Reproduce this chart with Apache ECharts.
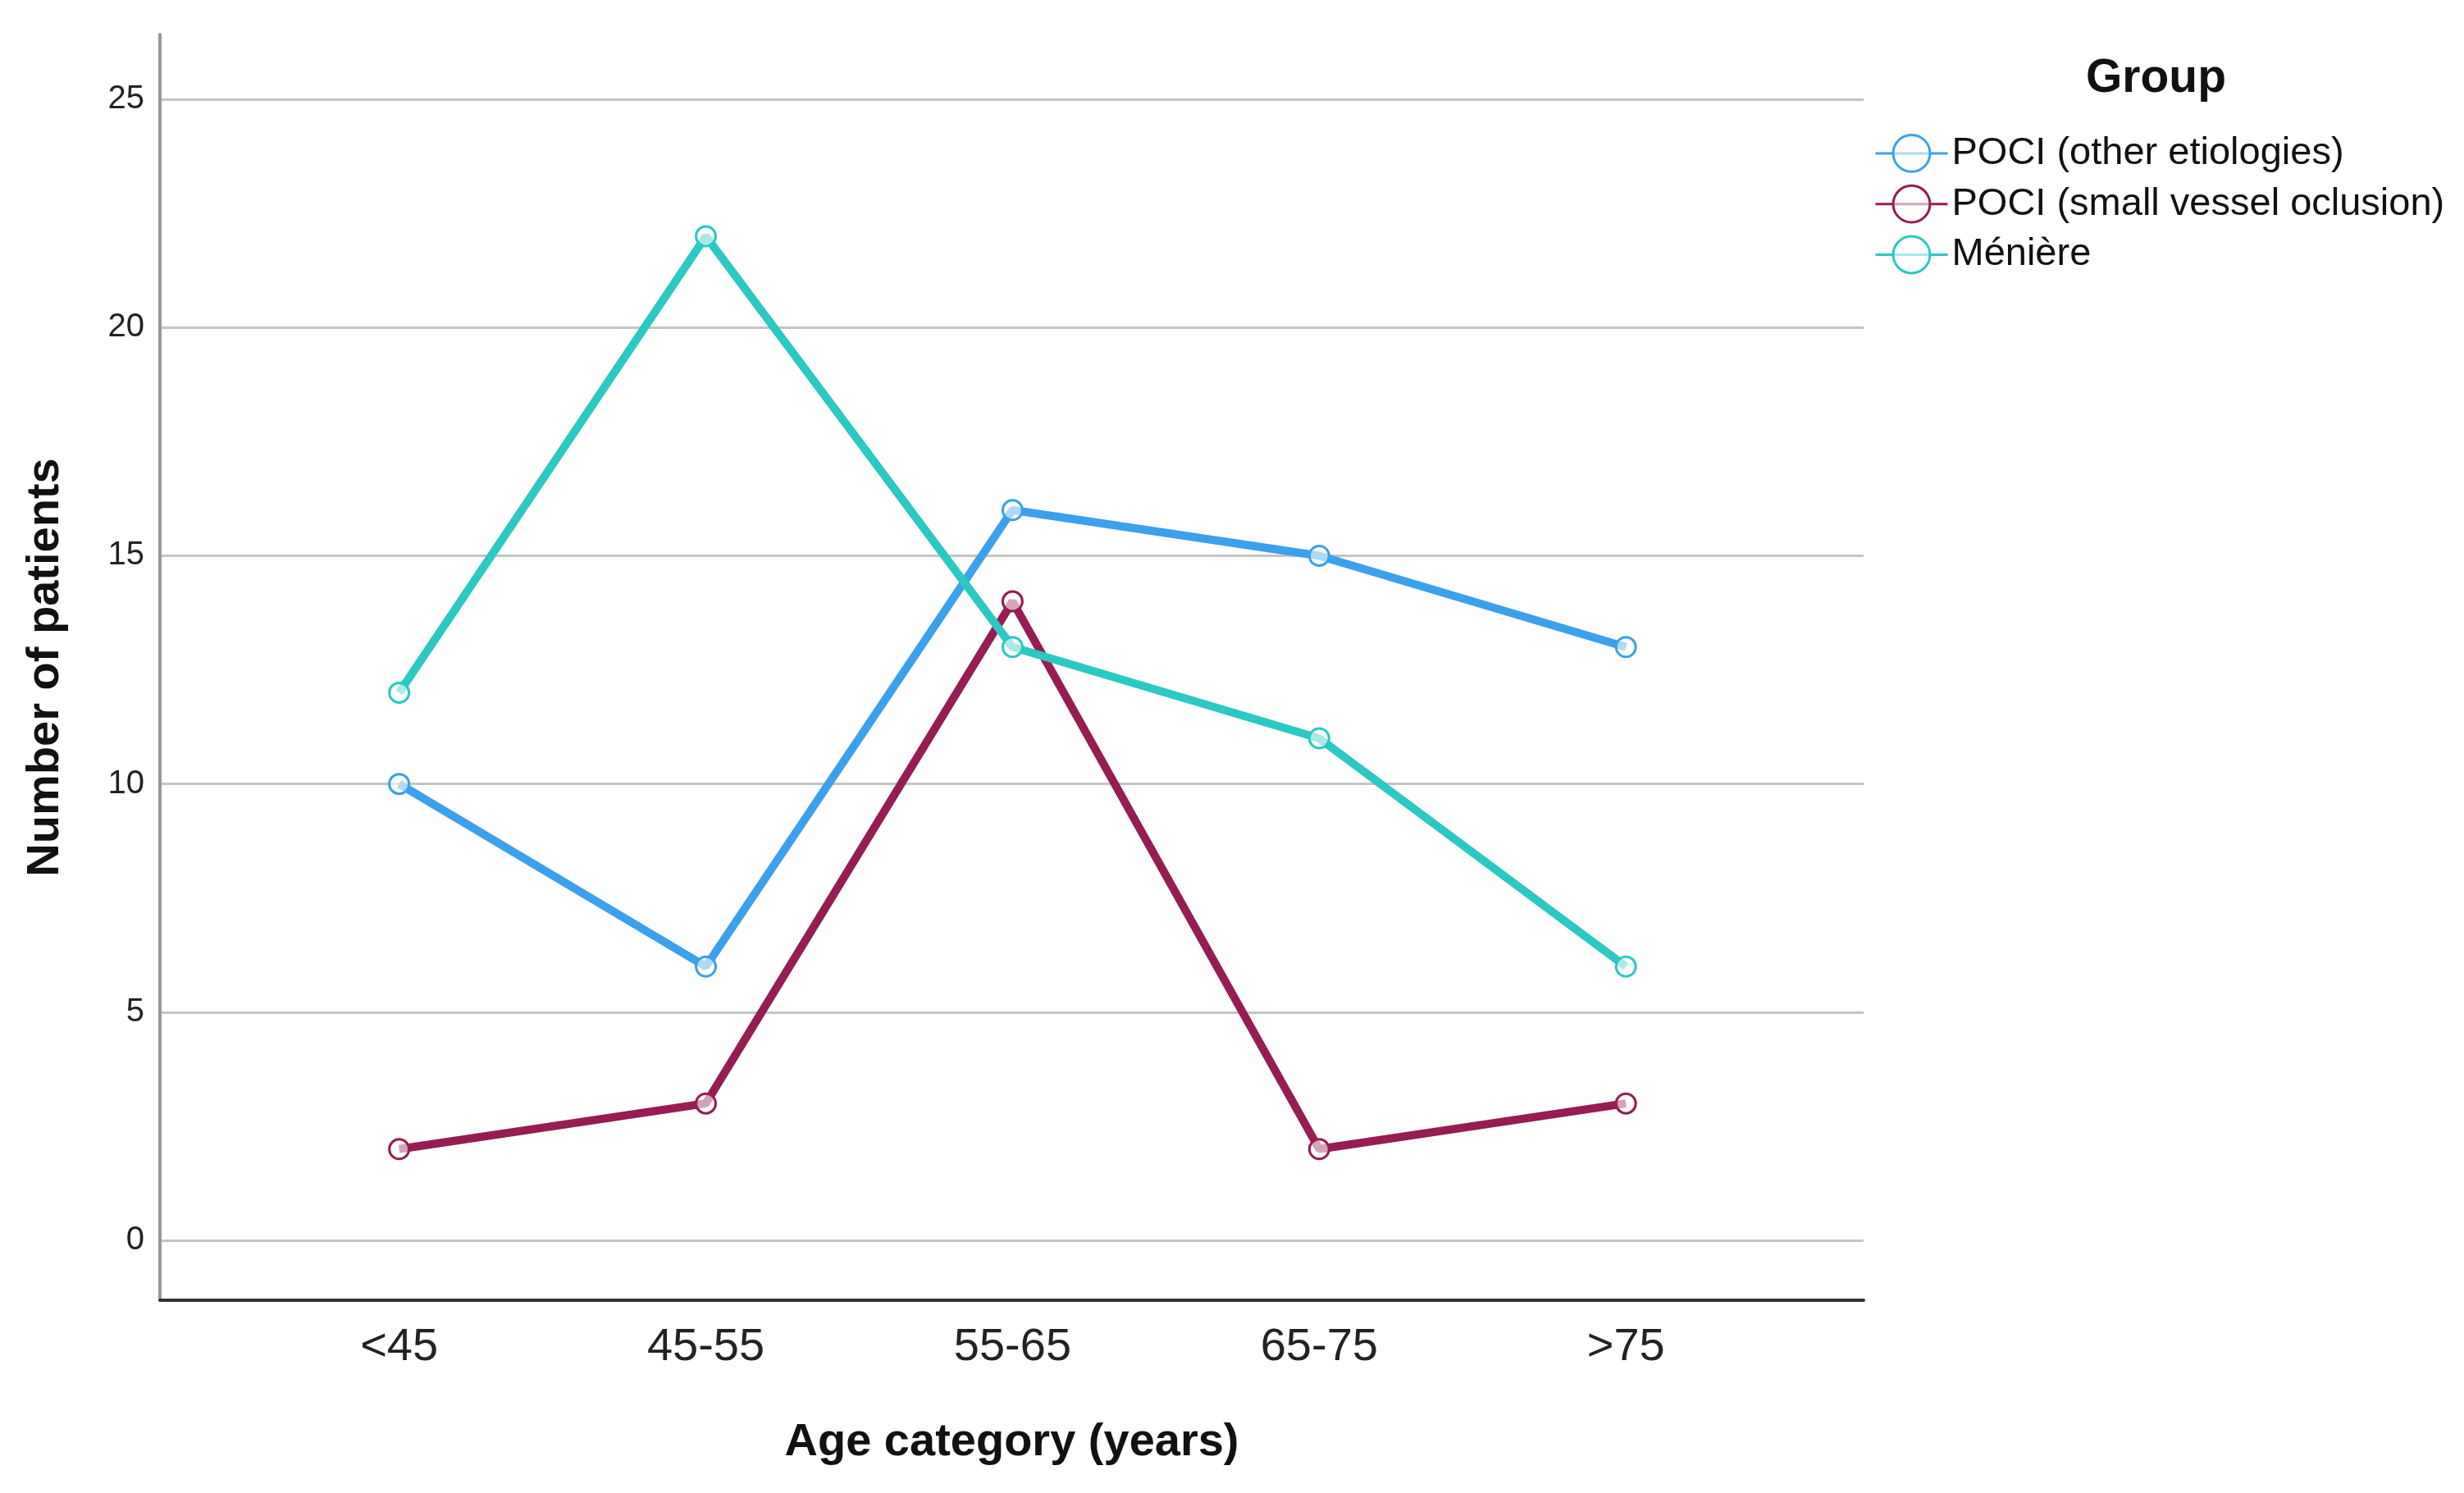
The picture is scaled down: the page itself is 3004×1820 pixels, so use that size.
<!DOCTYPE html>
<html>
<head>
<meta charset="utf-8">
<script src="https://cdn.jsdelivr.net/npm/echarts@6/dist/echarts.min.js"></script>
<style>html,body{margin:0;padding:0;background:#fff;}#c{width:3004px;height:1820px;}</style>
</head>
<body>
<div id="c"></div>
<script>
const categories = ['<45', '45-55', '55-65', '65-75', '>75'];
const yTicks = [0, 5, 10, 15, 20, 25];
const seriesNames = ['POCI (other etiologies)', 'POCI (small vessel oclusion)', 'Ménière'];
const pociOther = [10, 6, 16, 15, 13];
const pociSvo = [2, 3, 14, 2, 3];
const meniere = [12, 22, 13, 11, 6];
const colors = ['#3ba1ec', '#961c52', '#2cc8c4'];

const FONT = 'Liberation Sans, Arial, sans-serif';
const chart = echarts.init(document.getElementById('c'));
const catIdx = categories.map((c, i) => i);
function pts(vals) { return vals.map((v, i) => [i, v]); }
const allVals = [pociOther, pociSvo, meniere];

chart.setOption({
  animation: false,
  backgroundColor: '#fff',
  grid: { left: 195, right: 732, top: 42, bottom: 235, containLabel: false },
  graphic: [{
    type: 'text', left: 2629 - 86, top: 68,
    style: { text: 'Group', font: 'bold 57px ' + FONT, fill: '#111' }
  }],
  legend: {
    orient: 'vertical', left: 2280, top: 158,
    itemWidth: 88, itemHeight: 56, itemGap: 14,
    textStyle: { fontFamily: FONT, fontSize: 47, color: '#111' },
    lineStyle: { width: 3 },
    itemStyle: { borderWidth: 3 },
    data: seriesNames
  },
  xAxis: {
    type: 'value', min: -0.78, max: 4.775,
    name: 'Age category (years)', nameLocation: 'middle', nameGap: 146,
    nameTextStyle: { fontFamily: FONT, fontSize: 56, fontWeight: 'bold', color: '#111' },
    axisLine: { show: true, onZero: false, lineStyle: { color: '#333', width: 4 } },
    axisTick: { show: false, customValues: catIdx },
    splitLine: { show: false },
    axisLabel: {
      customValues: catIdx, margin: 30,
      fontFamily: FONT, fontSize: 56, color: '#222',
      formatter: v => categories[Math.round(v)]
    }
  },
  yAxis: {
    type: 'value', min: -1.31, max: 26.42,
    name: 'Number of patients', nameLocation: 'middle', nameGap: 111, nameRotate: 90,
    nameTextStyle: { fontFamily: FONT, fontSize: 56, fontWeight: 'bold', color: '#111' },
    axisLine: { show: true, onZero: false, lineStyle: { color: '#999', width: 4 } },
    axisTick: { show: false, customValues: yTicks },
    splitLine: { show: true, lineStyle: { color: '#c4c4c4', width: 3 } },
    axisLabel: { customValues: yTicks, margin: 19, fontFamily: FONT, fontSize: 40, color: '#222' }
  },
  series: seriesNames.map((n, k) => ({
    name: n, type: 'line', data: pts(allVals[k]),
    symbol: 'circle', symbolSize: 24,
    lineStyle: { color: colors[k], width: 10 },
    itemStyle: { color: 'rgba(255,255,255,0.6)', borderColor: colors[k], borderWidth: 3 },
    z: 2 + k
  }))
});
</script>
</body>
</html>
